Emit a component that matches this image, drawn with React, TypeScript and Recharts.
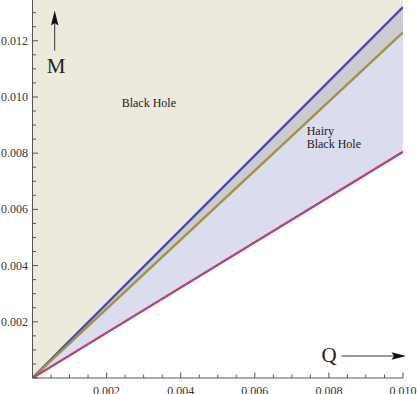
import React from "react";
import { ComposedChart, Area, Line, XAxis, YAxis } from "recharts";

const qValues = [0, 0.01];
const blueValues = [0, 0.0132];
const goldValues = [0, 0.0123];
const magentaValues = [0, 0.00805];
const yMax = 0.01345;
const xTicks = Array.from({ length: 21 }, (_, i) => +(i * 0.0005).toFixed(4));
const yTicks = Array.from({ length: 27 }, (_, i) => +(i * 0.0005).toFixed(4));
const tickLabels = ["", "0.002", "0.004", "0.006", "0.008", "0.010", "0.012"];

const data = qValues.map((q, i) => ({
  q,
  top: yMax,
  blue: blueValues[i],
  gold: goldValues[i],
  magenta: magentaValues[i],
}));

const AXIS = "#555";
const FONT = "'Liberation Serif', 'DejaVu Serif', serif";
const MARGIN = { top: 0, right: 14, bottom: 0, left: 0 };

const isMajor = (v: number) => Math.abs(v / 0.002 - Math.round(v / 0.002)) < 1e-6;
const fmt = (v: number) => (isMajor(v) ? tickLabels[Math.round(v / 0.002)] ?? "" : "");

const XTick = (props: any) => {
  const { x, y, payload } = props;
  const v = payload.value;
  const major = isMajor(v);
  const text = fmt(v);
  return (
    <g>
      <line x1={x} x2={x} y1={y} y2={y - (major ? 5.5 : 3.5)} stroke={AXIS} strokeWidth={1} />
      {text && (
        <text x={x} y={y + 17} textAnchor="middle" fontFamily={FONT} fontSize={12} fill="#333">
          {text}
        </text>
      )}
    </g>
  );
};

const YTick = (props: any) => {
  const { x, y, payload } = props;
  const v = payload.value;
  const major = isMajor(v);
  const text = fmt(v);
  return (
    <g>
      <line x1={x} x2={x + (major ? 5.5 : 3.5)} y1={y} y2={y} stroke={AXIS} strokeWidth={1} />
      {text && (
        <text x={x - 4.5} y={y + 4} textAnchor="end" fontFamily={FONT} fontSize={12} fill="#333">
          {text}
        </text>
      )}
    </g>
  );
};

export default function App() {
  return (
    <div style={{ position: "absolute", left: 0, top: 0, width: 417, height: 394 }}>
      <div style={{ position: "absolute", left: 0, top: 0, zIndex: 0 }}>
        <ComposedChart width={417} height={394} data={data} margin={MARGIN}>
          <XAxis dataKey="q" type="number" domain={[0, 0.01]} height={16} tick={false} tickLine={false} axisLine={false} allowDataOverflow />
          <YAxis type="number" domain={[0, yMax]} width={32.5} tick={false} tickLine={false} axisLine={false} allowDataOverflow />
          <Area type="linear" dataKey="top" stroke="none" fill="#ECEADD" fillOpacity={1} isAnimationActive={false} />
          <Area type="linear" dataKey="blue" stroke="none" fill="#CCCAD2" fillOpacity={1} isAnimationActive={false} />
          <Area type="linear" dataKey="gold" stroke="none" fill="#DCDCEF" fillOpacity={1} isAnimationActive={false} />
          <Area type="linear" dataKey="magenta" stroke="none" fill="#FFFFFF" fillOpacity={1} isAnimationActive={false} />
          <Line type="linear" dataKey="blue" stroke="#4B4BA8" strokeWidth={2.4} dot={false} isAnimationActive={false} />
          <Line type="linear" dataKey="gold" stroke="#A09440" strokeWidth={2.4} dot={false} isAnimationActive={false} />
          <Line type="linear" dataKey="magenta" stroke="#B0487F" strokeWidth={2.4} dot={false} isAnimationActive={false} />
        </ComposedChart>
      </div>
      <div style={{ position: "absolute", left: 0, top: 0, zIndex: 1, pointerEvents: "none" }}>
        <ComposedChart width={417} height={394} data={data} margin={MARGIN}>
          <XAxis
            dataKey="q"
            type="number"
            domain={[0, 0.01]}
            ticks={xTicks}
            interval={0}
            height={16}
            tick={<XTick />}
            tickLine={false}
            tickSize={0}
            tickMargin={0}
            stroke={AXIS}
            allowDataOverflow
          />
          <YAxis
            type="number"
            domain={[0, yMax]}
            ticks={yTicks}
            interval={0}
            width={32.5}
            tick={<YTick />}
            tickLine={false}
            tickSize={0}
            tickMargin={0}
            stroke={AXIS}
            allowDataOverflow
          />
        </ComposedChart>
      </div>
      <svg
        width={417}
        height={394}
        style={{ position: "absolute", left: 0, top: 0, zIndex: 2, pointerEvents: "none" }}
      >
        <line x1={54.7} x2={54.7} y1={50.5} y2={22} stroke="#333" strokeWidth={1} />
        <polygon points="54.7,10.5 51,25.5 54.7,23 58.4,25.5" fill="#111" />
        <text x={56} y={73.3} textAnchor="middle" fontFamily={FONT} fontSize={21} fill="#222">M</text>
        <line x1={341.7} x2={395} y1={356} y2={356} stroke="#333" strokeWidth={1} />
        <polygon points="406,356 391.5,352.3 394,356 391.5,359.7" fill="#111" />
        <text x={329} y={361.7} textAnchor="middle" fontFamily={FONT} fontSize={21} fill="#222">Q</text>
        <text x={121.7} y={106.5} fontFamily={FONT} fontSize={12} fill="#222">Black Hole</text>
        <text x={306.7} y={134.5} fontFamily={FONT} fontSize={12} fill="#222">Hairy</text>
        <text x={306.7} y={148} fontFamily={FONT} fontSize={12} fill="#222">Black Hole</text>
      </svg>
    </div>
  );
}
